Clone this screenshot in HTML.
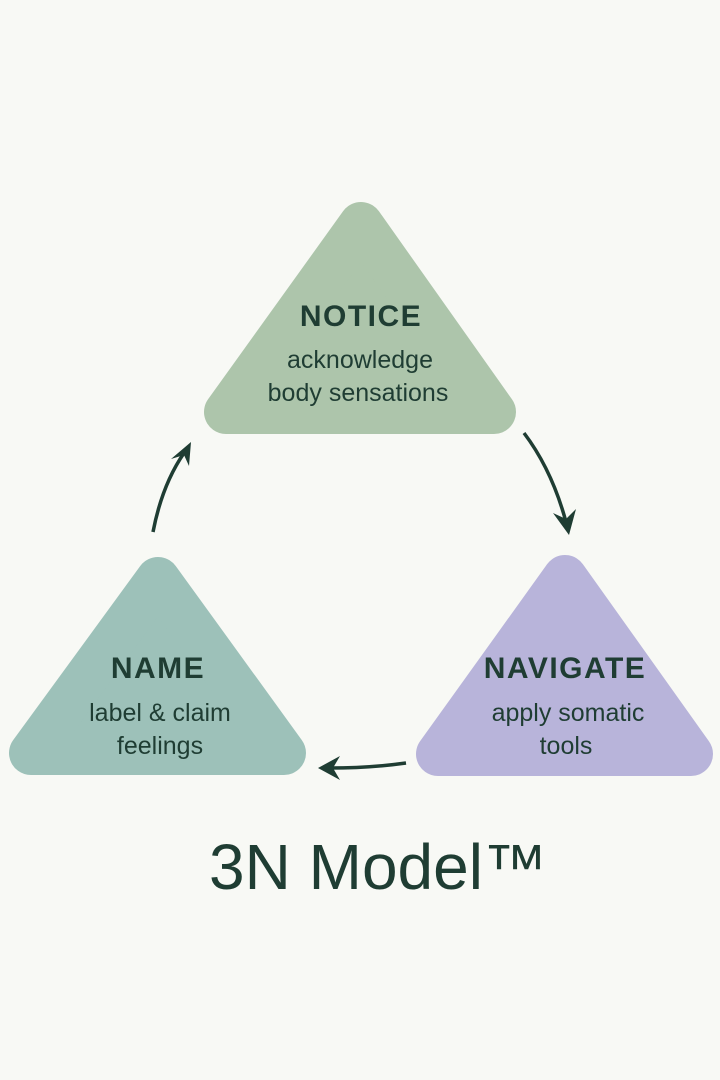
<!DOCTYPE html>
<html><head><meta charset="utf-8"><style>
html,body{margin:0;padding:0;background:#f8f9f5;}
svg{display:block}
text{font-family:"Liberation Sans","DejaVu Sans",sans-serif;fill:#1f3d33;text-anchor:middle}
.h{font-weight:bold;font-size:30px;letter-spacing:1.5px}
.s{font-size:25px}
</style></head><body>
<svg width="720" height="1080" viewBox="0 0 720 1080">
<rect width="720" height="1080" fill="#f8f9f5"/>
<polygon points="361,224 226,412 494,412" fill="#adc5ab" stroke="#adc5ab" stroke-width="44" stroke-linejoin="round"/>
<polygon points="158,579 31,753 284,753" fill="#9dc1b9" stroke="#9dc1b9" stroke-width="44" stroke-linejoin="round"/>
<polygon points="565,577 438,754 691,754" fill="#b8b4da" stroke="#b8b4da" stroke-width="44" stroke-linejoin="round"/>
<text class="h" x="361" y="326">NOTICE</text>
<text class="s" x="360" y="368">acknowledge</text>
<text class="s" x="358" y="401">body sensations</text>
<text class="h" x="158" y="678">NAME</text>
<text class="s" x="160" y="721">label &amp; claim</text>
<text class="s" x="160" y="754">feelings</text>
<text class="h" x="565" y="678">NAVIGATE</text>
<text class="s" x="568" y="721">apply somatic</text>
<text class="s" x="566" y="754">tools</text>
<text x="378" y="889" style="font-size:64px">3N Model™</text>
<g fill="none" stroke="#1f3d33" stroke-width="3.5">
<path d="M524,433 Q552,470 566,522"/>
<path d="M406,763 Q370,768 330,768"/>
<path d="M153,532 Q162,485 184,453"/>
</g>
<g fill="#1f3d33">
<polygon points="569,535 553,513 566,519 576,509"/>
<polygon points="318,768 340,756 333,768 340,780"/>
<polygon points="191,442 189,466 184,455 171,459"/>
</g>
</svg>
</body></html>
